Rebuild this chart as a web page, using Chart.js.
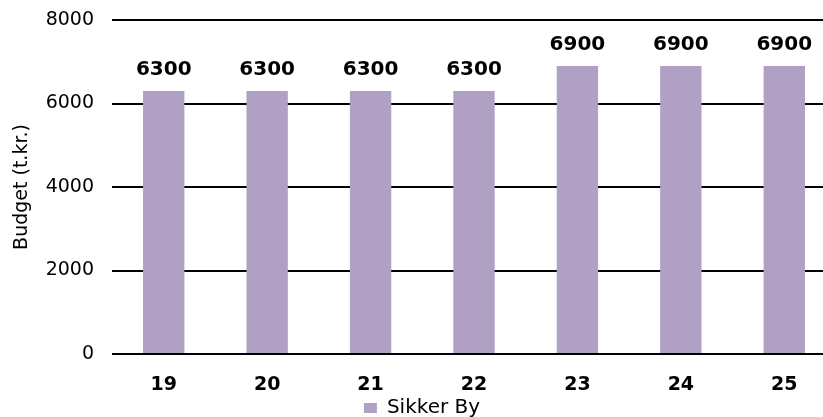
<!DOCTYPE html>
<html>
<head>
<meta charset="utf-8">
<script src="https://cdn.jsdelivr.net/npm/chart.js@4/dist/chart.umd.min.js"></script>
<style>
  html, body { margin: 0; padding: 0; background: #fff; overflow: hidden; }
  #wrap { width: 840px; height: 417px; }
</style>
</head>
<body>
<div id="wrap"><canvas id="budgetChart"></canvas></div>
<script>
const aar = ['19', '20', '21', '22', '23', '24', '25'];
const sikkerBy = [6300, 6300, 6300, 6300, 6900, 6900, 6900];
const yTicks = [0, 2000, 4000, 6000, 8000];

const fontFam = '"DejaVu Sans", sans-serif';

// writes the value above each bar
const barValues = {
    id: 'barValues',
    afterDatasetsDraw(chart) {
        const ctx = chart.ctx;
        ctx.save();
        ctx.font = 'bold 20px ' + fontFam;
        ctx.fillStyle = '#000';
        ctx.textAlign = 'center';
        ctx.textBaseline = 'alphabetic';
        chart.getDatasetMeta(0).data.forEach((bar, i) => {
            ctx.fillText(sikkerBy[i], bar.x, bar.y - 16);
        });
        ctx.restore();
    }
};

new Chart(document.getElementById('budgetChart'), {
    type: 'bar',
    data: {
        labels: aar,
        datasets: [{
            label: 'Sikker By',
            data: sikkerBy,
            backgroundColor: '#b0a1c4',
            borderWidth: 0,
            categoryPercentage: 1,
            barPercentage: 0.4
        }]
    },
    options: {
        responsive: true,
        maintainAspectRatio: false,
        animation: false,
        layout: { padding: { top: 20, left: 8, right: 4, bottom: -11 } },
        plugins: {
            tooltip: { enabled: false },
            legend: {
                position: 'bottom',
                labels: {
                    boxWidth: 13,
                    boxHeight: 10,
                    padding: 4,
                    color: '#000',
                    font: { family: fontFam, size: 20 }
                }
            }
        },
        scales: {
            x: {
                grid: { display: false, drawTicks: false },
                border: { display: false },
                afterFit(scale) { scale.height = 40; },
                ticks: {
                    color: '#000',
                    padding: 20,
                    font: { family: fontFam, size: 19, weight: 'bold' }
                }
            },
            y: {
                min: 0,
                max: 8000,
                afterBuildTicks(scale) {
                    scale.ticks = yTicks.map(v => ({ value: v }));
                },
                afterFit(scale) {
                    scale.width = 104;
                    scale.paddingTop = 0;
                    scale.paddingBottom = 0;
                },
                grid: { color: '#000', lineWidth: 2, drawTicks: false },
                border: { display: false },
                ticks: {
                    color: '#000',
                    padding: 18,
                    font: { family: fontFam, size: 19 },
                    callback: v => String(v)
                },
                title: {
                    display: true,
                    text: 'Budget (t.kr.)',
                    color: '#000',
                    padding: { top: 3, bottom: 0 },
                    font: { family: fontFam, size: 19 }
                }
            }
        }
    },
    plugins: [barValues]
});
</script>
</body>
</html>
